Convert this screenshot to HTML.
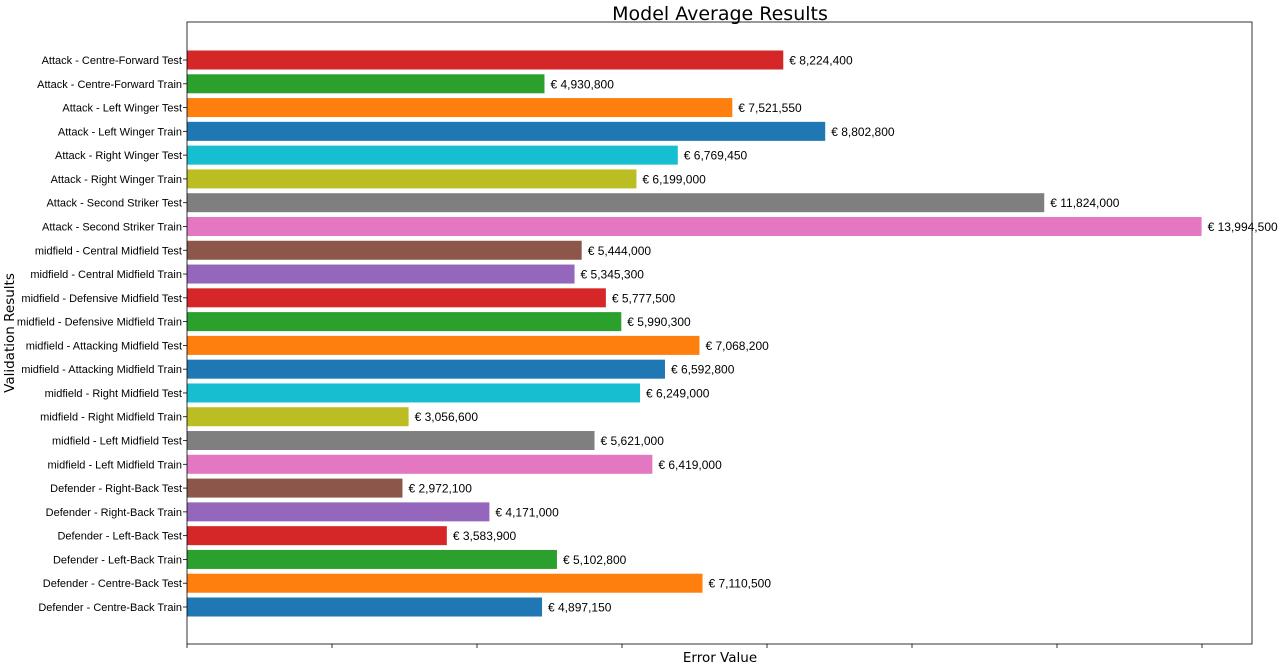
<!DOCTYPE html>
<html><head><meta charset="utf-8"><style>
body{margin:0;background:#fff;font-family:"DejaVu Sans","Liberation Sans",sans-serif;}
</style></head><body>
<svg id="chart" width="1280" height="668" xmlns="http://www.w3.org/2000/svg">
<text x="720" y="20" text-anchor="middle" font-size="19">Model Average Results</text>
<text x="720" y="662" text-anchor="middle" font-size="13.5">Error Value</text>
<text transform="translate(14,333) rotate(-90)" text-anchor="middle" font-size="13.5">Validation Results</text>
<g id="bars"></g>
<rect x="187" y="22" width="1065" height="622" fill="none" stroke="#000" stroke-width="0.8"/>
</svg>
<script>
const categories=["Attack - Centre-Forward Test","Attack - Centre-Forward Train","Attack - Left Winger Test","Attack - Left Winger Train","Attack - Right Winger Test","Attack - Right Winger Train","Attack - Second Striker Test","Attack - Second Striker Train","midfield - Central Midfield Test","midfield - Central Midfield Train","midfield - Defensive Midfield Test","midfield - Defensive Midfield Train","midfield - Attacking Midfield Test","midfield - Attacking Midfield Train","midfield - Right Midfield Test","midfield - Right Midfield Train","midfield - Left Midfield Test","midfield - Left Midfield Train","Defender - Right-Back Test","Defender - Right-Back Train","Defender - Left-Back Test","Defender - Left-Back Train","Defender - Centre-Back Test","Defender - Centre-Back Train"];
const values=[8224400,4930800,7521550,8802800,6769450,6199000,11824000,13994500,5444000,5345300,5777500,5990300,7068200,6592800,6249000,3056600,5621000,6419000,2972100,4171000,3583900,5102800,7110500,4897150];
const xTicks=[0,2000000,4000000,6000000,8000000,10000000,12000000,14000000];
const palette=["#1f77b4","#ff7f0e","#2ca02c","#d62728","#9467bd","#8c564b","#e377c2","#7f7f7f","#bcbd22","#17becf"];
const NS="http://www.w3.org/2000/svg";
const g=document.getElementById('bars');
const x=v=>187+v*72.5/1e6;
const n=categories.length;
const y=i=>60+i*(547/(n-1));
const bh=19;
const LF='"Liberation Sans", sans-serif';
function mk(t,a){const e=document.createElementNS(NS,t);for(const k in a)e.setAttribute(k,a[k]);g.appendChild(e);return e;}
categories.forEach((c,i)=>{
  const col=palette[(n-1-i)%10];
  const r=mk('rect',{x:187,y:y(i)-bh/2,width:x(values[i])-187,height:bh,fill:col});
  
  
  const t=mk('text',{x:x(values[i])+6,y:y(i)+4.5,'font-size':12,'font-family':LF});
  t.textContent='€ '+values[i].toLocaleString('en-US');
  
  
  const l=mk('text',{x:182,y:y(i)+4,'font-size':11,'text-anchor':'end','font-family':LF});
  l.textContent=c;
  
  
  const tk=mk('line',{x1:183,x2:187,y1:y(i),y2:y(i),stroke:'#000','stroke-width':0.8});
  
  
});
xTicks.forEach(v=>{
  const tk=mk('line',{x1:x(v),x2:x(v),y1:644,y2:648,stroke:'#000','stroke-width':0.8});
  
  
});
</script>
</body></html>
